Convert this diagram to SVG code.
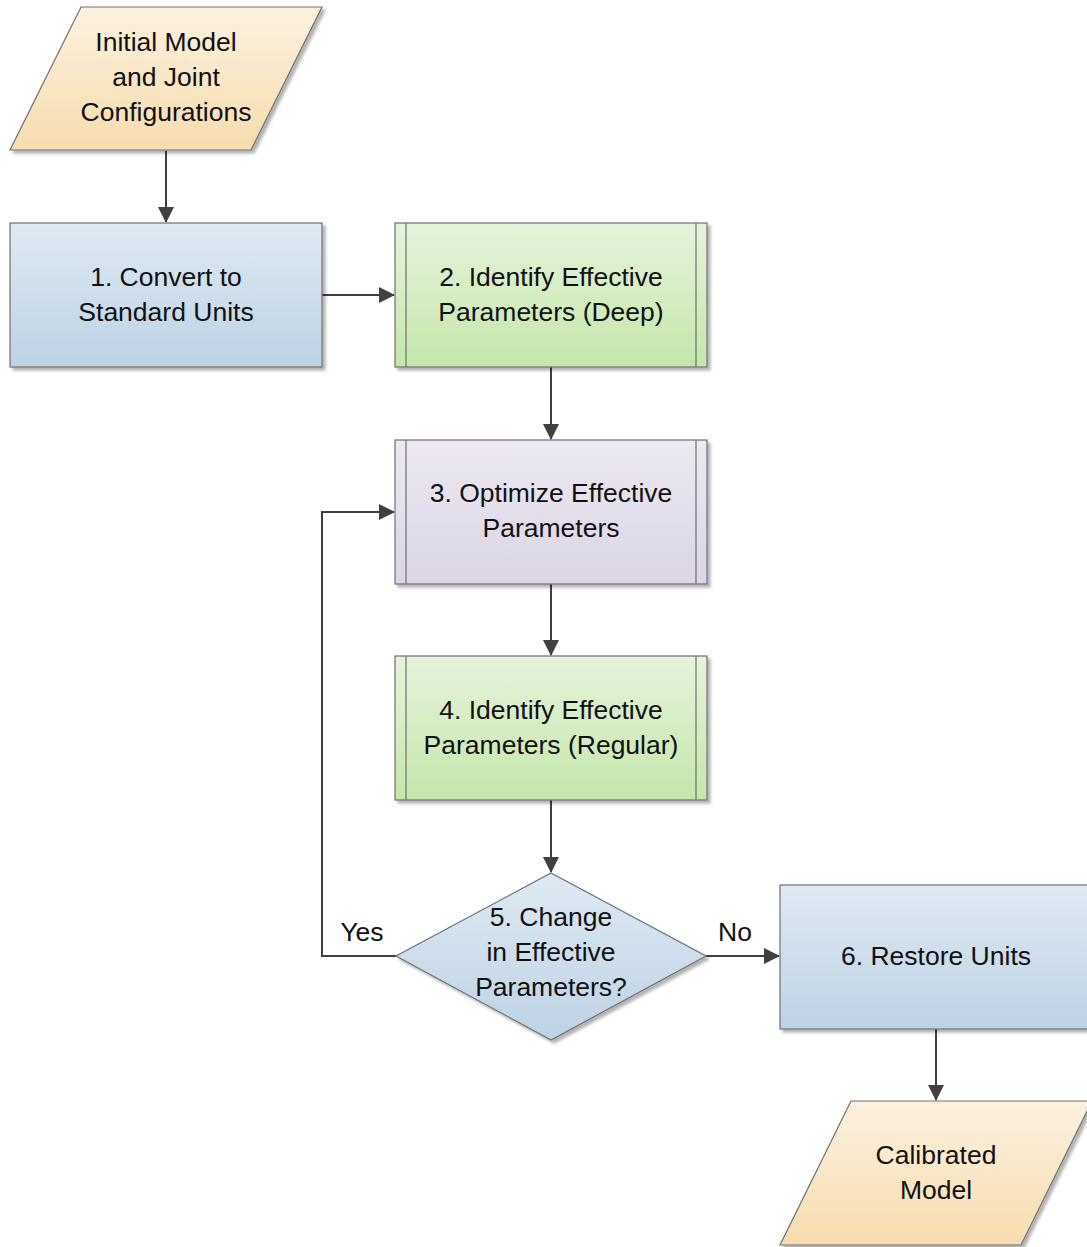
<svg xmlns="http://www.w3.org/2000/svg" width="1087" height="1247" viewBox="0 0 1087 1247">
<defs>
<linearGradient id="gIO" x1="0" y1="0" x2="0" y2="1"><stop offset="0" stop-color="#fcf1e0"/><stop offset="1" stop-color="#f6dcae"/></linearGradient>
<linearGradient id="gBlue" x1="0" y1="0" x2="0" y2="1"><stop offset="0" stop-color="#dfe9f3"/><stop offset="1" stop-color="#bdd2e5"/></linearGradient>
<linearGradient id="gGreen" x1="0" y1="0" x2="0" y2="1"><stop offset="0" stop-color="#e5f3dc"/><stop offset="1" stop-color="#c5e6aa"/></linearGradient>
<linearGradient id="gPurple" x1="0" y1="0" x2="0" y2="1"><stop offset="0" stop-color="#ede9f2"/><stop offset="1" stop-color="#dad4e5"/></linearGradient>
<filter id="sh" x="-10%" y="-10%" width="125%" height="125%"><feDropShadow dx="3" dy="3" stdDeviation="1.5" flood-color="#000" flood-opacity="0.3"/></filter>
<marker id="arr" viewBox="0 0 16 16" refX="15" refY="8" markerWidth="16" markerHeight="16" markerUnits="userSpaceOnUse" orient="auto"><path d="M0,0 L16,8 L0,16 Z" fill="#404040"/></marker>
</defs>
<style>
.n{stroke:#707070;stroke-width:1.2;filter:url(#sh)}
.l{fill:none;stroke:#707070;stroke-width:1.2}
.t{font-family:"Liberation Sans",Arial,sans-serif;font-size:26.5px;fill:#111;text-anchor:middle}
.c{fill:none;stroke:#404040;stroke-width:2;marker-end:url(#arr)}
</style>
<g id="connectors">
<path class="c" d="M166,151 V222"/>
<path class="c" d="M322,295 H394"/>
<path class="c" d="M551,367 V439"/>
<path class="c" d="M551,584 V655"/>
<path class="c" d="M551,800 V872"/>
<path class="c" d="M396,956 H322 V512 H394"/>
<path class="c" d="M706,956 H779"/>
<path class="c" d="M936,1029 V1100"/>
</g>
<g id="input">
<polygon class="n" fill="url(#gIO)" points="81,7 322,7 251,150 10,150"/>
<text class="t" x="166" y="51">Initial Model</text>
<text class="t" x="166" y="86">and Joint</text>
<text class="t" x="166" y="121">Configurations</text>
</g>
<g id="step1">
<rect class="n" fill="url(#gBlue)" x="10" y="223" width="312" height="144"/>
<text class="t" x="166" y="286">1. Convert to</text>
<text class="t" x="166" y="321">Standard Units</text>
</g>
<g id="step2">
<rect class="n" fill="url(#gGreen)" x="395" y="223" width="312" height="144"/>
<path class="l" d="M406,223 V367 M696,223 V367"/>
<text class="t" x="551" y="286">2. Identify Effective</text>
<text class="t" x="551" y="321">Parameters (Deep)</text>
</g>
<g id="step3">
<rect class="n" fill="url(#gPurple)" x="395" y="440" width="312" height="144"/>
<path class="l" d="M406,440 V584 M696,440 V584"/>
<text class="t" x="551" y="502">3. Optimize Effective</text>
<text class="t" x="551" y="537">Parameters</text>
</g>
<g id="step4">
<rect class="n" fill="url(#gGreen)" x="395" y="656" width="312" height="144"/>
<path class="l" d="M406,656 V800 M696,656 V800"/>
<text class="t" x="551" y="719">4. Identify Effective</text>
<text class="t" x="551" y="754">Parameters (Regular)</text>
</g>
<g id="step5">
<polygon class="n" fill="url(#gBlue)" points="551,873 706,956 551,1040 396,956"/>
<text class="t" x="551" y="926">5. Change</text>
<text class="t" x="551" y="961">in Effective</text>
<text class="t" x="551" y="996">Parameters?</text>
</g>
<g id="labels">
<text class="t" x="362" y="941">Yes</text>
<text class="t" x="735" y="941">No</text>
</g>
<g id="step6">
<rect class="n" fill="url(#gBlue)" x="780" y="885" width="312" height="144"/>
<text class="t" x="936" y="965">6. Restore Units</text>
</g>
<g id="output">
<polygon class="n" fill="url(#gIO)" points="851,1101 1092,1101 1021,1245 780,1245"/>
<text class="t" x="936" y="1164">Calibrated</text>
<text class="t" x="936" y="1199">Model</text>
</g>
</svg>
